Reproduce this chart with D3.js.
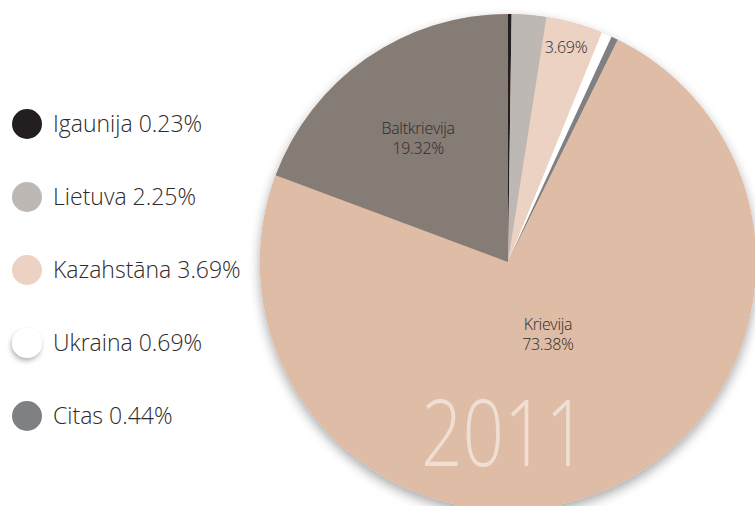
<!DOCTYPE html>
<html>
<head>
<meta charset="utf-8">
<script src="https://cdn.jsdelivr.net/npm/d3@7"></script>
<style>
html,body{margin:0;padding:0;background:#fff;}
svg{display:block;}
</style>
</head>
<body>
<svg id="chart" width="755" height="506"></svg>
<script>
const categories = ["Igaunija", "Lietuva", "Kazahstāna", "Ukraina", "Citas", "Krievija", "Baltkrievija"];
const values = [0.23, 2.25, 3.69, 0.69, 0.44, 73.38, 19.32];
const colors = ["#231f20", "#bdb8b4", "#ebd2c2", "#ffffff", "#7f8083", "#dfbca6", "#857c76"];
const legendItems = ["Igaunija", "Lietuva", "Kazahstāna", "Ukraina", "Citas"];
const yearLabel = "2011";

const fmt = v => v.toFixed(2) + "%";
const svg = d3.select("#chart");
const cx = 508, cy = 262, R = 248;

const defs = svg.append("defs");
const f = defs.append("filter").attr("id", "shadow").attr("x", "-20%").attr("y", "-20%").attr("width", "140%").attr("height", "140%");
f.append("feGaussianBlur").attr("in", "SourceAlpha").attr("stdDeviation", 6).attr("result", "b");
f.append("feOffset").attr("in", "b").attr("dx", 0).attr("dy", 5).attr("result", "o");
f.append("feComponentTransfer").attr("in", "o").attr("result", "o2")
  .append("feFuncA").attr("type", "linear").attr("slope", 0.35);
const m = f.append("feMerge");
m.append("feMergeNode").attr("in", "o2");
m.append("feMergeNode").attr("in", "SourceGraphic");

const f2 = defs.append("filter").attr("id", "shadowSmall").attr("x", "-50%").attr("y", "-50%").attr("width", "200%").attr("height", "200%");
f2.append("feGaussianBlur").attr("in", "SourceAlpha").attr("stdDeviation", 2.5).attr("result", "b");
f2.append("feOffset").attr("in", "b").attr("dx", -1).attr("dy", 3).attr("result", "o");
f2.append("feComponentTransfer").attr("in", "o").attr("result", "o2")
  .append("feFuncA").attr("type", "linear").attr("slope", 0.3);
const m2 = f2.append("feMerge");
m2.append("feMergeNode").attr("in", "o2");
m2.append("feMergeNode").attr("in", "SourceGraphic");

const data = categories.map((c, i) => ({ name: c, value: values[i], color: colors[i] }));
const pie = d3.pie().value(d => d.value).sort(null);
const arcs = pie(data);
const arc = d3.arc().innerRadius(0).outerRadius(R);

const g = svg.append("g").attr("transform", `translate(${cx},${cy})`);
g.append("circle").attr("r", R).attr("fill", "#dfbca6").attr("filter", "url(#shadow)");
g.selectAll("path.slice").data(arcs).enter().append("path")
  .attr("class", "slice")
  .attr("d", arc)
  .attr("fill", d => d.data.color);

// year label
g.append("text")
  .attr("x", -4).attr("y", 204)
  .attr("text-anchor", "middle")
  .attr("font-family", "'Open Sans', sans-serif")
  .attr("font-weight", 300)
  .attr("font-size", 92)
  .attr("fill", "#efdfd3")
  .attr("textLength", 166)
  .attr("lengthAdjust", "spacingAndGlyphs")
  .text(yearLabel);

// slice labels
const labelSpec = {
  "Baltkrievija": { r: 0.617, da: -0.021, name: true },
  "Krievija": { r: 0.332, da: -0.129, name: true },
  "Kazahstāna": { r: 0.894, da: -0.007, name: false }
};
const labelFont = t => t
  .attr("text-anchor", "middle")
  .attr("font-family", "'Open Sans', sans-serif")
  .attr("font-weight", 300)
  .attr("font-size", 16)
  .attr("fill", "#2e2a2a")
  .attr("letter-spacing", -0.3);
arcs.forEach(a => {
  const s = labelSpec[a.data.name];
  if (!s) return;
  const ang = (a.startAngle + a.endAngle) / 2 + s.da;
  const x = Math.sin(ang) * R * s.r, y = -Math.cos(ang) * R * s.r;
  if (s.name) {
    g.append("text").call(labelFont).attr("x", x).attr("y", y - 4).text(a.data.name);
    g.append("text").call(labelFont).attr("x", x).attr("y", y + 16).text(fmt(a.data.value));
  } else {
    g.append("text").call(labelFont).attr("x", x).attr("y", y + 5).text(fmt(a.data.value));
  }
});

// legend
const ly = d3.scalePoint().domain(legendItems).range([124, 416]);
const lg = svg.append("g");
legendItems.forEach(n => {
  const i = categories.indexOf(n);
  const row = lg.append("g").attr("transform", `translate(0,${ly(n)})`);
  row.append("circle").attr("cx", 27).attr("cy", 0).attr("r", 15)
    .attr("fill", colors[i])
    .attr("filter", colors[i] === "#ffffff" ? "url(#shadowSmall)" : null);
  row.append("text").attr("x", 53).attr("y", 8)
    .attr("font-family", "'Open Sans', sans-serif")
    .attr("font-weight", 300)
    .attr("font-size", 23)
    .attr("letter-spacing", 0)
    .attr("fill", "#2e2a2a")
    .text(`${n} ${fmt(values[i])}`);
});
</script>
</body>
</html>
